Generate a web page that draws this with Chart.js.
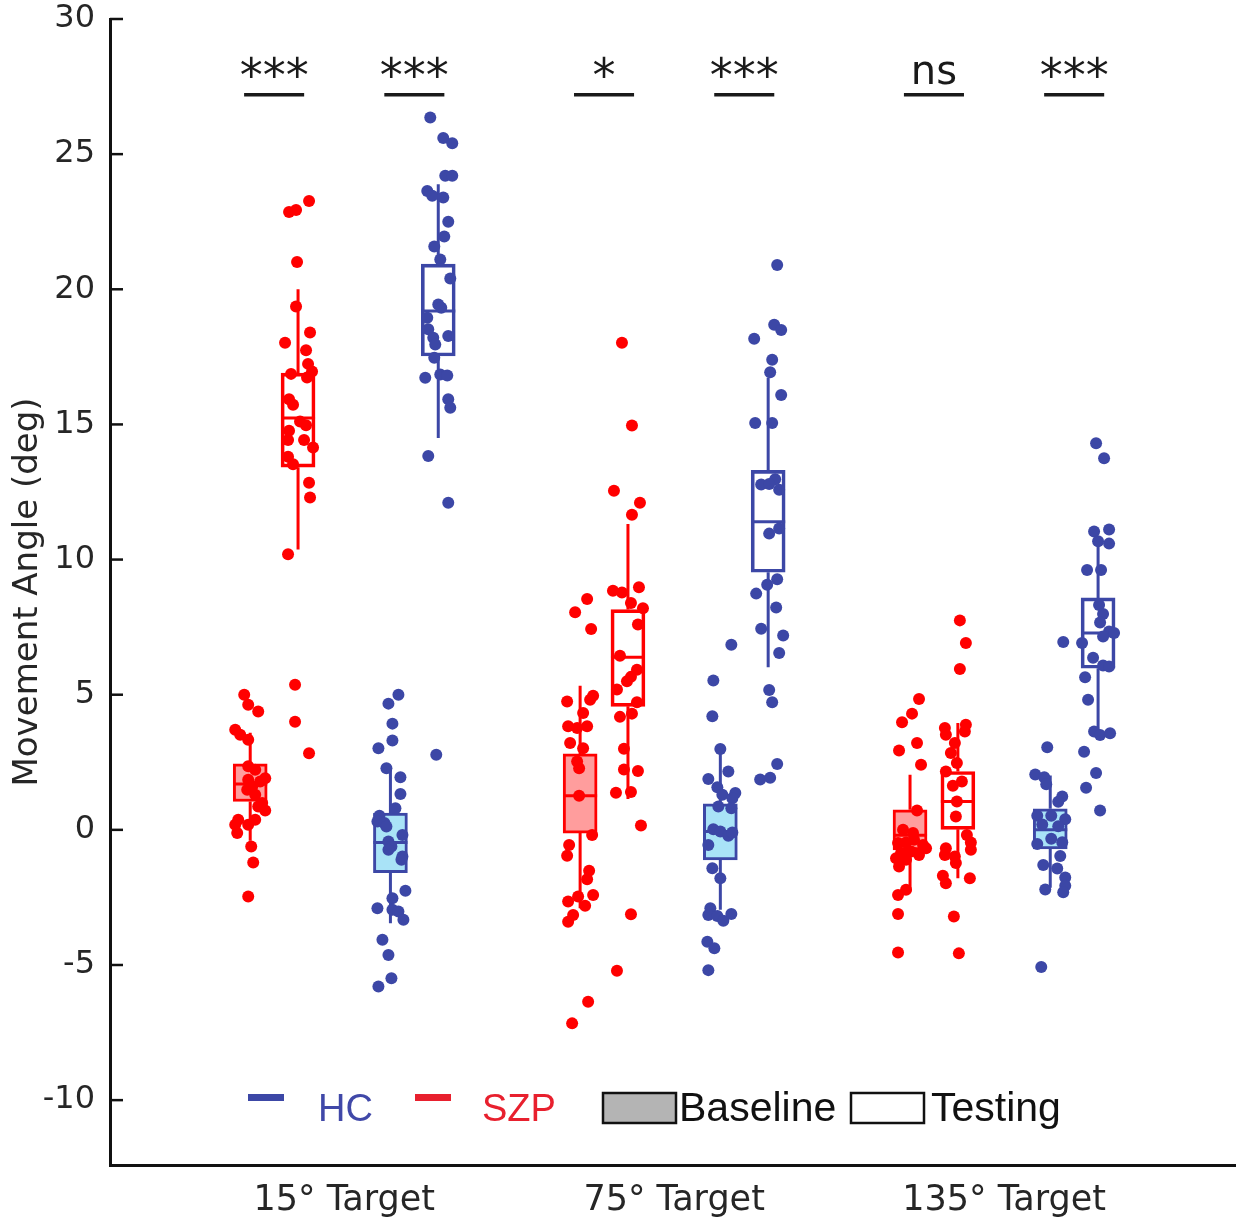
<!DOCTYPE html>
<html><head><meta charset="utf-8">
<script src="https://cdn.jsdelivr.net/npm/chart.js@4.4.1/dist/chart.umd.min.js"></script>
<style>html,body{margin:0;padding:0;background:#fff;overflow:hidden;}#wrap{width:1242px;height:1224px;position:relative;}canvas{display:block;}</style>
</head><body><div id="wrap"><canvas id="c" width="1242" height="1224"></canvas></div>
<script>
// ---------------- DATA ----------------
const targets = ['15\u00B0 Target', '75\u00B0 Target', '135\u00B0 Target'];
const seriesNames = ['SZP Baseline', 'SZP Testing', 'HC Baseline', 'HC Testing'];
const sigLabels = ['***', '***', '*', '***', 'ns', '***']; // per target: SZP pair, HC pair

// box stats: [lower whisker, Q1, median, Q3, upper whisker]
const szpBase15Box = [-0.4, 1.05, 1.7, 2.44, 3.59];
const szpTest15Box = [10.37, 13.42, 15.24, 16.9, 20.0];
const hcBase15Box  = [-3.46, -1.58, -0.47, 0.62, 2.35];
const hcTest15Box  = [14.5, 17.53, 19.2, 20.93, 23.89];
const szpBase75Box = [-2.9, -0.12, 1.26, 2.81, 5.33];
const szpTest75Box = [1.14, 4.57, 6.39, 8.15, 11.32];
const hcBase75Box  = [-2.96, -1.11, -0.06, 0.96, 2.99];
const hcTest75Box  = [6.02, 9.53, 11.4, 13.3, 16.74];
const szpBase135Box = [-2.28, -0.74, -0.2, 0.74, 2.04];
const szpTest135Box = [-1.79, 0.02, 1.05, 2.16, 3.95];
const hcBase135Box  = [-2.14, -0.71, 0.0, 0.78, 2.01];
const hcTest135Box  = [3.57, 5.98, 7.28, 8.58, 10.53];

// individual subjects (values) and their horizontal jitter
const szpBase15 = [5.0,4.63,4.38,3.7,3.52,3.33,2.35,2.22,1.85,1.91,1.79,1.6,1.48,1.3,0.99,0.86,0.72,0.37,0.37,0.19,0.19,-0.12,-0.62,-1.21,-2.47];
const szpBase15Jit = [-6,-2,8,-15,-10,-2,-2,5,-2,15,10,2,-3,5,12,8,15,-12,5,-15,-2,-13,1,3,-2];
const szpTest15 = [23.27,22.86,22.93,21.01,19.36,18.4,18.02,17.74,17.24,16.96,16.87,16.74,15.93,15.73,15.11,14.97,14.77,14.42,14.42,14.15,13.8,13.53,12.84,12.3,10.2,5.37,4.0,2.83];
const szpTest15Jit = [11,-9,-2,-1,-2,12,-13,8,10,14,-7,9,-9,-5,2,8,-9,-10,6,15,-10,-5,11,12,-10,-3,-3,11];
const hcBase15 = [5.0,4.67,3.93,3.31,3.02,2.28,1.95,1.33,0.8,0.52,0.31,0.25,0.12,-0.19,-0.43,-0.62,-0.74,-0.99,-1.11,-2.25,-2.53,-2.9,-2.96,-3.02,-3.33,-4.07,-4.63,-5.49,-5.8];
const hcBase15Jit = [8,-2,2,2,-12,-4,10,10,5,-11,-13,-6,-4,12,-2,1,-2,12,11,15,2,-13,2,8,13,-8,-2,1,-12];
const hcTest15 = [26.36,25.6,25.4,24.2,24.2,23.64,23.46,23.4,22.5,21.95,21.58,21.1,20.4,19.44,19.32,18.95,18.52,18.21,18.27,17.96,17.47,16.73,16.85,16.81,15.93,15.62,13.83,12.1,2.78];
const hcTest15Jit = [-8,5,14,7,14,-11,-6,5,10,6,-4,2,12,0,3,-11,-10,-5,10,-3,-4,-13,2,9,10,12,-10,10,-2];
const szpBase75 = [8.54,8.05,7.43,4.75,4.96,4.81,4.32,3.83,3.83,3.77,3.21,3.02,2.53,2.28,1.26,-0.19,-0.56,-0.96,-1.51,-1.83,-2.65,-2.47,-2.41,-2.81,-3.15,-3.4,-6.36,-7.16];
const szpBase75Jit = [7,-5,11,-13,13,10,3,-12,7,-3,-10,3,-3,-1,-1,12,-11,-13,9,7,-12,-2,13,5,-7,-12,8,-8];
const szpTest75 = [18.02,14.96,12.55,12.1,11.66,8.85,8.78,8.98,8.39,8.2,7.6,6.44,5.92,5.66,5.5,5.19,4.72,4.18,4.3,3.0,2.23,2.18,1.37,1.4,0.16,-3.12,-5.21];
const szpTest75Jit = [-6,4,-14,12,4,-15,-6,11,3,15,10,-8,9,3,-1,-11,9,-8,4,-4,-4,10,-12,3,13,3,-11];
const hcBase75 = [6.85,5.53,4.2,2.99,2.16,1.88,1.58,1.36,1.3,1.17,0.86,0.8,0.02,-0.06,-0.22,-0.1,-0.56,-1.42,-1.79,-2.9,-3.15,-3.19,-3.36,-3.11,-4.14,-4.38,-5.19];
const hcBase75Jit = [11,-7,-8,0,8,-12,-3,15,2,12,-2,11,-7,0,8,12,-12,-8,0,-10,-12,-3,3,11,-13,-6,-12];
const hcTest75 = [20.9,18.69,18.49,18.17,17.39,16.93,16.09,15.05,15.05,12.97,12.78,12.8,12.58,10.96,11.15,9.27,9.07,8.74,8.23,7.44,7.19,6.54,5.17,4.72,2.44,1.86,1.93];
const hcTest75Jit = [9,6,13,-14,4,2,13,-13,4,7,-7,1,11,1,11,9,-1,-12,8,-7,15,11,1,4,9,-8,2];
const szpBase135 = [4.84,4.3,3.98,3.21,2.94,2.41,0.72,-0.49,-0.47,-0.37,-0.56,-0.68,-0.86,-0.8,-0.93,-1.05,-1.11,-1.36,-0.12,0.0,-2.22,-2.41,-3.11,-4.54];
const szpBase135Jit = [9,2,-8,7,-11,11,7,-12,-4,4,13,16,-9,1,9,-14,-4,-11,3,-7,-4,-12,-12,-12];
const szpTest135 = [7.75,6.91,5.95,3.89,3.64,3.77,3.52,3.21,2.84,2.47,2.16,1.79,1.63,1.05,0.49,-0.19,-0.47,-0.74,-0.68,-0.93,-0.99,-1.23,-1.7,-1.98,-1.79,-3.21,-4.57];
const szpTest135Jit = [2,8,2,8,7,-13,-12,-3,-7,-1,-12,4,-5,-1,-2,9,13,13,-12,-13,-3,-2,-15,-12,12,-4,1];
const hcBase135 = [6.95,3.06,2.05,1.95,1.69,1.23,1.04,0.52,0.52,0.39,0.2,0.13,-0.52,-0.33,-0.46,-1.3,-0.97,-1.43,-1.76,-2.07,-2.21,-2.31,-5.07];
const hcBase135Jit = [13,-3,-15,-6,-4,12,8,-13,1,15,-8,8,-13,1,12,-7,10,7,15,15,-5,13,-9];
const hcTest135 = [14.3,13.75,11.04,11.11,10.68,10.59,9.61,9.61,8.32,7.99,7.67,7.34,7.15,7.28,6.91,6.37,6.08,6.04,5.65,4.81,3.64,3.51,3.57,2.89,2.1,1.56,0.72];
const hcTest135Jit = [-2,6,-4,11,0,11,-11,3,1,5,2,11,5,16,-16,-5,5,11,-13,-10,-4,2,12,-14,-2,-12,2];

// ---------------- STYLE / LAYOUT ----------------
const RED = '#ff0000', PINK = '#ff9d9d', BLUE = '#3c47a6', LBLUE = '#a9e3f7';
const seriesColor = [RED, RED, BLUE, BLUE];
const seriesFill = [PINK, 'rgba(0,0,0,0)', LBLUE, 'rgba(0,0,0,0)'];
const seriesOffset = [-0.285, -0.14, 0.14, 0.285];
const JIT = 1 / 330;
const boxesBySeries = [
  [szpBase15Box, szpBase75Box, szpBase135Box],
  [szpTest15Box, szpTest75Box, szpTest135Box],
  [hcBase15Box, hcBase75Box, hcBase135Box],
  [hcTest15Box, hcTest75Box, hcTest135Box]
];
const ptsBySeries = [
  [[szpBase15, szpBase15Jit], [szpBase75, szpBase75Jit], [szpBase135, szpBase135Jit]],
  [[szpTest15, szpTest15Jit], [szpTest75, szpTest75Jit], [szpTest135, szpTest135Jit]],
  [[hcBase15, hcBase15Jit], [hcBase75, hcBase75Jit], [hcBase135, hcBase135Jit]],
  [[hcTest15, hcTest15Jit], [hcTest75, hcTest75Jit], [hcTest135, hcTest135Jit]]
];

const datasets = [];
seriesNames.forEach((name, s) => {
  const boxes = boxesBySeries[s];
  const pts = [];
  ptsBySeries[s].forEach(([vals, jit], t) => {
    vals.forEach((v, i) => pts.push({ x: t + 1 + seriesOffset[s] + jit[i] * JIT, y: v }));
  });
  datasets.push({ type: 'scatter', label: name + ' subjects', data: pts, order: 0,
    pointRadius: 6, pointBorderWidth: 0, pointBackgroundColor: seriesColor[s], pointHoverRadius: 6 });
  datasets.push({ type: 'scatter', label: name + ' median', order: 1,
    data: boxes.map((b, t) => ({ x: t + 1 + seriesOffset[s], y: b[2] })),
    pointStyle: 'line', pointRadius: 17, pointBorderWidth: 3, pointBorderColor: seriesColor[s], pointHoverRadius: 17 });
  const wd = [];
  boxes.forEach((b, t) => {
    const xx = t + 1 + seriesOffset[s];
    wd.push({ x: xx, y: b[4] }, { x: xx, y: b[3] }, { x: xx, y: null }, { x: xx, y: b[1] }, { x: xx, y: b[0] }, { x: xx, y: null });
  });
  datasets.push({ type: 'scatter', label: name + ' whiskers', order: 2, data: wd, showLine: true, spanGaps: false,
    borderColor: seriesColor[s], borderWidth: 3, pointRadius: 0, pointHoverRadius: 0 });
  datasets.push({ type: 'bar', label: name + ' box', order: 3,
    data: boxes.map((b, t) => ({ x: t + 1 + seriesOffset[s], y: [b[1], b[3]] })),
    backgroundColor: seriesFill[s], borderColor: seriesColor[s], borderWidth: 3, borderSkipped: false,
    barThickness: 34, grouped: false });
});

const decor = {
  id: 'decor',
  afterDraw(chart) {
    const { ctx, chartArea, scales: { x, y } } = chart;
    ctx.save();
    ctx.strokeStyle = '#111'; ctx.lineWidth = 2.5;
    y.ticks.forEach(t => {
      const py = y.getPixelForValue(t.value);
      ctx.beginPath(); ctx.moveTo(chartArea.left, py); ctx.lineTo(chartArea.left + 13, py); ctx.stroke();
    });
    sigLabels.forEach((lab, i) => {
      const t = Math.floor(i / 2) + 1;
      const cxv = i % 2 === 0 ? (seriesOffset[0] + seriesOffset[1]) / 2 : (seriesOffset[2] + seriesOffset[3]) / 2;
      const cx = x.getPixelForValue(t + cxv);
      const ly = y.getPixelForValue(27.2);
      const hw = x.getPixelForValue(t + cxv + 0.091) - cx;
      ctx.strokeStyle = '#1a1a1a'; ctx.lineWidth = 3.5;
      ctx.beginPath(); ctx.moveTo(cx - hw, ly); ctx.lineTo(cx + hw, ly); ctx.stroke();
      ctx.fillStyle = '#1a1a1a'; ctx.textAlign = 'center'; ctx.textBaseline = 'alphabetic';
      if (lab === 'ns') { ctx.font = '40px "DejaVu Sans"'; ctx.fillText(lab, cx, ly - 11); }
      else { ctx.font = '46px "DejaVu Sans"'; ctx.fillText(lab, cx, ly - 4); }
    });
    ctx.fillStyle = BLUE; ctx.fillRect(248, 1094, 36, 7);
    ctx.fillStyle = '#e8202e'; ctx.fillRect(415, 1094, 36, 7);
    ctx.textAlign = 'left'; ctx.textBaseline = 'alphabetic';
    ctx.font = '38px "Liberation Sans"';
    ctx.fillStyle = '#4048a8'; ctx.fillText('HC', 318, 1121);
    ctx.fillStyle = '#e8202e'; ctx.fillText('SZP', 482, 1121);
    ctx.lineWidth = 2.5; ctx.strokeStyle = '#111';
    ctx.fillStyle = '#b4b4b4'; ctx.fillRect(603, 1093, 73, 30); ctx.strokeRect(603, 1093, 73, 30);
    ctx.fillStyle = '#fff'; ctx.fillRect(851, 1093, 73, 30); ctx.strokeRect(851, 1093, 73, 30);
    ctx.font = '41px "Liberation Sans"'; ctx.fillStyle = '#111';
    ctx.fillText('Baseline', 679, 1121);
    ctx.fillText('Testing', 931, 1121);
    ctx.restore();
  }
};

new Chart(document.getElementById('c'), {
  type: 'scatter',
  data: { datasets },
  plugins: [decor],
  options: {
    responsive: false, animation: false, events: [],
    layout: { autoPadding: false, padding: { top: 19, right: 7, left: 0, bottom: 0 } },
    plugins: { legend: { display: false }, tooltip: { enabled: false } },
    scales: {
      x: {
        type: 'linear', min: 0.29, max: 3.70, offset: false,
        afterFit: s => { s.height = 59; s.paddingLeft = 0; s.paddingRight = 0; },
        afterBuildTicks: s => { s.ticks = targets.map((_, i) => ({ value: i + 1 })); },
        ticks: { callback: (v, i) => targets[i], padding: 15, maxRotation: 0, autoSkip: false,
          font: { family: 'DejaVu Sans', size: 35 }, color: '#262626' },
        grid: { display: false, drawTicks: false },
        border: { display: true, color: '#111', width: 3 }
      },
      y: {
        type: 'linear', min: -12.4, max: 30,
        afterFit: s => { s.width = 110; },
        afterBuildTicks: s => { s.ticks = s.ticks.filter(t => Math.abs(t.value / 5 - Math.round(t.value / 5)) < 1e-6); },
        ticks: { stepSize: 5, padding: 0, font: { family: 'DejaVu Sans', size: 32, lineHeight: 1 }, color: '#262626' },
        grid: { display: true, drawOnChartArea: false, drawTicks: true, tickLength: 15, color: 'rgba(0,0,0,0)' },
        border: { display: true, color: '#111', width: 3 },
        title: { display: true, text: 'Movement Angle (deg)', font: { family: 'DejaVu Sans', size: 34 }, color: '#262626', padding: { top: 8, bottom: 0 } }
      }
    }
  }
});
</script></body></html>
